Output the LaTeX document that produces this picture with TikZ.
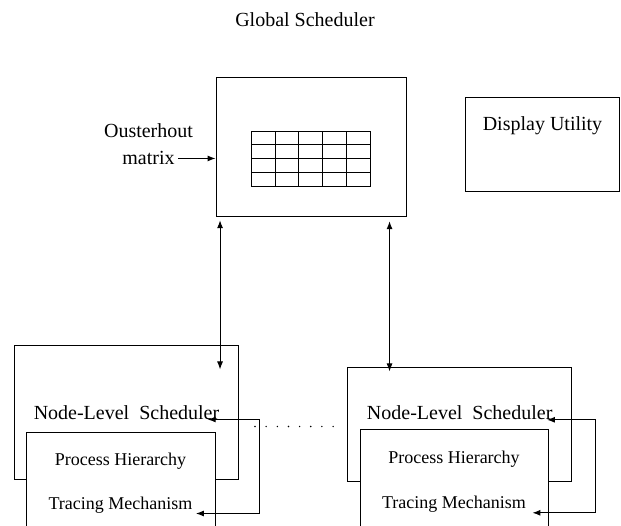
\documentclass[tikz,border=0pt]{standalone}
\usepackage{fontspec}
\setmainfont{Liberation Serif}
\usetikzlibrary{arrows.meta, positioning}

\tikzset{
    box/.style={draw, fill=white, inner sep=0pt},
    bigtext/.style={inner sep=0pt, anchor=base, font=\fontsize{20}{24}\selectfont},
    smalltext/.style={inner sep=0pt, anchor=base, font=\fontsize{18}{22}\selectfont},
}

\begin{document}
\begin{tikzpicture}[
    x=1pt,
    y=-1pt,
    line width=1pt,
    >={Latex[length=8pt,width=6pt]},
]
    \useasboundingbox (0,0) rectangle (621,526);

    % global scheduler
    \node[bigtext] (gtitle) at (305,27) {Global Scheduler};
    \node[box, minimum width=190.5pt, minimum height=139.4pt] (global) at (311.3,147) {};
    \node[box, minimum width=154pt,   minimum height=94pt]    (display) at (542,145) {};
    \node[bigtext] (dtext) at (542.5,130.5) {Display Utility};

    % the matrix
    \node[box, minimum width=119pt, minimum height=55.3pt] (omatrix) at (311.2,159.3) {};
    \foreach \i in {1,...,4}
        \draw ([xshift=\i*23.8pt]omatrix.north west) -- ([xshift=\i*23.8pt]omatrix.south west);
    \foreach \j in {1,2,3}
        \draw ([yshift=-\j*13.83pt]omatrix.north west) -- ([yshift=-\j*13.83pt]omatrix.north east);

    \node[bigtext] (oust) at (148.5,138) {Ousterhout};
    \node[bigtext] (omat) at (148.5,165) {matrix};
    \draw[->] ([xshift=3pt]omat.east) -- (omat.east -| global.west);

    % node-level schedulers
    \node[box, minimum width=224.4pt, minimum height=133.6pt] (lnode) at (126.5,412.5) {};
    \node[bigtext] (lsched) at (126.5,419.5) {Node-Level\ \ Scheduler};
    \node[box, minimum width=189pt, minimum height=110pt, anchor=north] (linner) at (120.5,431.7) {};
    \node[smalltext] (lproc)  at (120.5,465)   {Process Hierarchy};
    \node[smalltext] (ltrace) at (120.5,509.5) {Tracing Mechanism};

    \node[box, minimum width=224pt, minimum height=113.7pt] (rnode) at (459.7,424.8) {};
    \node[bigtext] (rsched) at (459.7,419.8) {Node-Level\ \ Scheduler};
    \node[box, minimum width=188.3pt, minimum height=110pt, anchor=north] (rinner) at (454.2,429.3) {};
    \node[smalltext] (rproc)  at (454,463.5) {Process Hierarchy};
    \node[smalltext] (rtrace) at (454,508.3) {Tracing Mechanism};

    \foreach \i in {0,...,7}
        \fill (255+\i*11.15,426.5) circle (0.8pt);

    \draw[<->] ([xshift=4.5pt,yshift=-3pt]global.south west)
        -- ([xshift=4.5pt,yshift=-24.3pt]global.south west |- lnode.north);
    \draw[<->] ([xshift=-17.5pt,yshift=-4pt]global.south east)
        -- ([xshift=-17.5pt,yshift=-4pt]global.south east |- rnode.north);

    \draw[<->] ([xshift=-12pt]lsched.base east)
        -| ([xshift=20.5pt,yshift=-4pt]lnode.east |- ltrace.base)
        -- ([xshift=3pt,yshift=-4pt]ltrace.base east);
    \draw[<->] ([xshift=-6pt]rsched.base east)
        -| ([xshift=23.5pt,yshift=-4.5pt]rnode.east |- rtrace.base)
        -- ([xshift=6pt,yshift=-4.5pt]rtrace.base east);
\end{tikzpicture}
\end{document}
